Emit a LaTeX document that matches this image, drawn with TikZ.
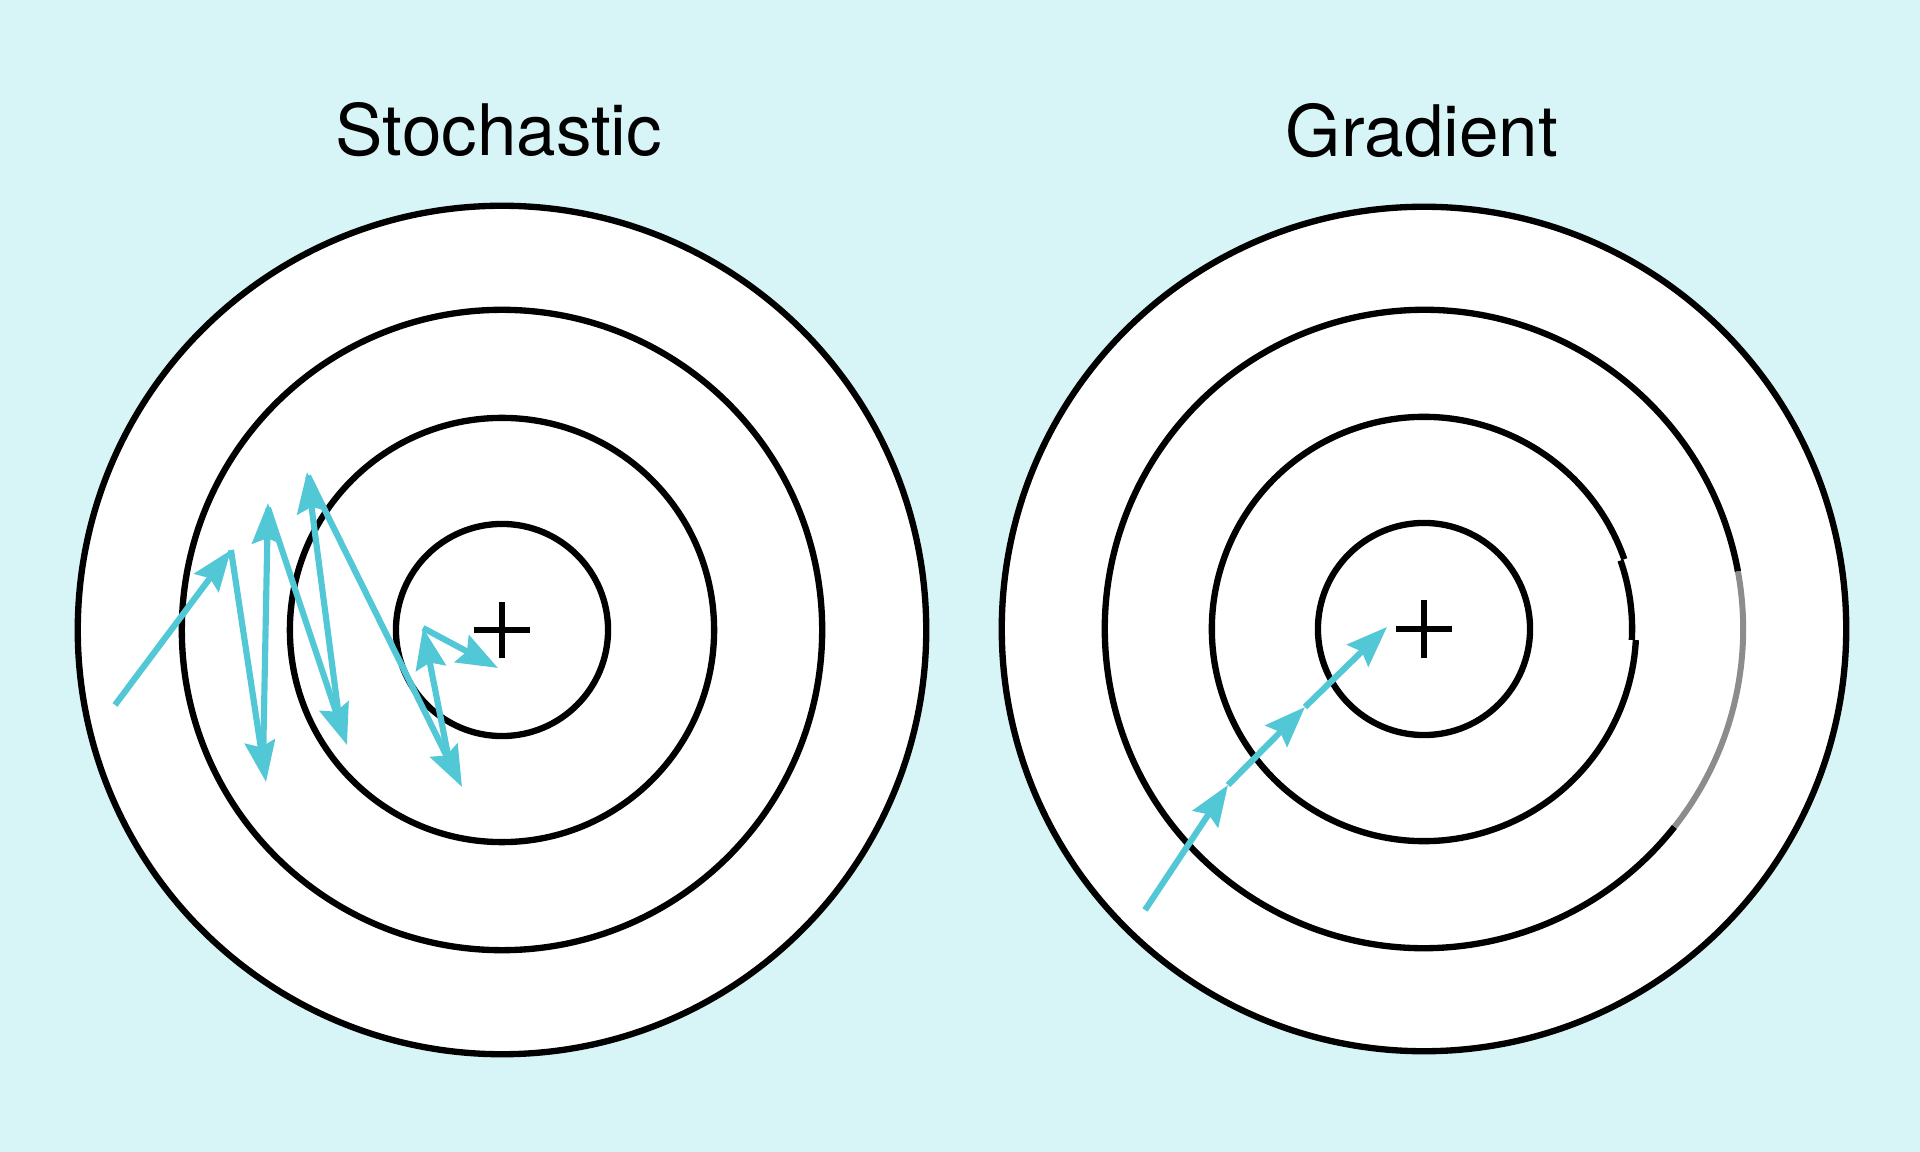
\documentclass[tikz,border=0pt]{standalone}
\usepackage{fontspec}
\setmainfont{TeX Gyre Heros}
\usetikzlibrary{arrows.meta}
\definecolor{bgc}{RGB}{215,245,246}
\definecolor{arrc}{RGB}{82,200,214}
\begin{document}
\begin{tikzpicture}[x=0.01cm,y=-0.01cm,
  ring/.style={draw=black, line width=1.8pt},
  plusline/.style={draw=black, line width=1.9pt},
  sgdarrow/.style={draw=arrc, line width=1.75pt,
    -{Stealth[length=11.6pt,width=8.6pt,inset=1.6pt]}},
  titlefont/.style={font=\fontsize{20.2pt}{24pt}\selectfont, anchor=base, inner sep=0pt}]
\fill[bgc] (0,0) rectangle (1920,1152);
\useasboundingbox (0,0) rectangle (1920,1152);

% titles
\node[titlefont] (tS) at (499,156) {Stochastic};
\node[titlefont] (tG) at (1422,157) {Gradient};

% centres
\coordinate (L) at (502,630);
\coordinate (R) at (1424,629);

% left target
\fill[white] (L) circle[radius=4.24cm];
\draw[ring] (L) circle[radius=4.24cm];
\draw[ring] (L) circle[radius=3.2cm];
\draw[ring] (L) circle[radius=2.12cm];
\draw[ring] (L) circle[radius=1.06cm];
\draw[plusline] ([xshift=-0.28cm]L) -- ([xshift=0.28cm]L);
\draw[plusline] ([yshift=-0.28cm]L) -- ([yshift=0.28cm]L);

% right target
\fill[white] (R) circle[radius=4.22cm];
\draw[ring] (R) circle[radius=4.22cm];
\draw[ring] (R) ++(10.4:3.19cm) arc[start angle=10.4, end angle=321.7, radius=3.19cm];
\draw[draw=black!45, line width=1.7pt] (R) ++(10.4:3.19cm) arc[start angle=10.4, end angle=-38.3, radius=3.19cm];
\draw[ring] (R) ++(19.2:2.12cm) arc[start angle=19.2, end angle=357, radius=2.12cm];
\draw[ring] (R) ++(19.2:2.08cm) arc[start angle=19.2, end angle=-3, radius=2.08cm];
\draw[ring] (R) circle[radius=1.06cm];
\draw[plusline] ([xshift=-0.28cm]R) -- ([xshift=0.28cm]R);
\draw[plusline] ([yshift=-0.29cm]R) -- ([yshift=0.29cm]R);

% stochastic path
\coordinate (p0) at (115,705);
\coordinate (p1) at (231,550);
\coordinate (p2) at (266,782);
\coordinate (p3s) at (263,765);
\coordinate (p3) at (268,503);
\coordinate (p4s) at (268,508);
\coordinate (p4) at (347,745);
\coordinate (p5s) at (340,725);
\coordinate (p5) at (307,472);
\coordinate (p6s) at (308,476);
\coordinate (p6) at (462,787);
\coordinate (p7s) at (449,760);
\coordinate (p7) at (423,628);
\coordinate (p8) at (498,668);
\draw[sgdarrow] (p0) -- (p1);
\draw[sgdarrow] (p1) -- (p2);
\draw[sgdarrow] (p3s) -- (p3);
\draw[sgdarrow] (p4s) -- (p4);
\draw[sgdarrow] (p5s) -- (p5);
\draw[sgdarrow] (p6s) -- (p6);
\draw[sgdarrow] (p7s) -- (p7);
\draw[sgdarrow] (p7) -- (p8);

% gradient path
\coordinate (q0) at (1145,910);
\coordinate (q1) at (1228,785);
\coordinate (q2) at (1305,707);
\coordinate (q3) at (1387,627);
\draw[sgdarrow] (q0) -- (q1);
\draw[sgdarrow] (q1) -- (q2);
\draw[sgdarrow] (q2) -- (q3);
\end{tikzpicture}
\end{document}
